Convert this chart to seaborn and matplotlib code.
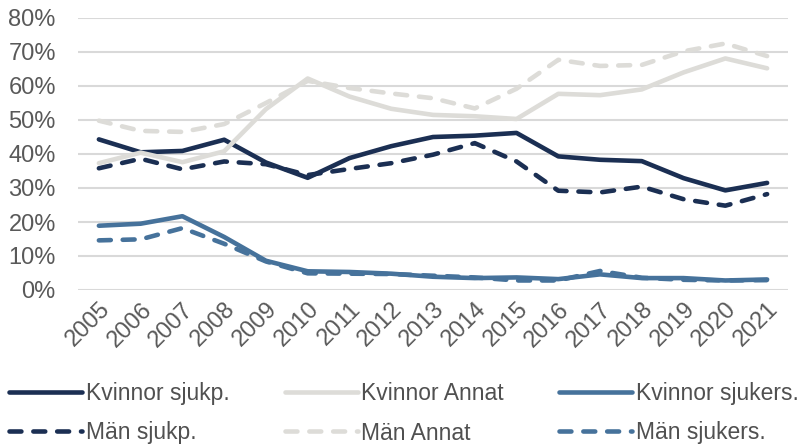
import numpy as np
import pandas as pd
import matplotlib
matplotlib.use('Agg')
import matplotlib.pyplot as plt
import seaborn as sns

years = list(range(2005, 2022))

kvinnor_sjukp = [44.3, 40.5, 40.9, 44.2, 37.5, 33.0, 38.8, 42.3, 45.0, 45.4, 46.2, 39.3, 38.3, 37.9, 32.9, 29.3, 31.5]
man_sjukp = [35.8, 38.6, 35.5, 37.8, 37.0, 33.8, 35.6, 37.3, 39.8, 43.2, 37.8, 29.2, 28.7, 30.4, 26.7, 24.8, 28.2]
kvinnor_annat = [37.3, 40.4, 37.6, 40.8, 53.2, 62.2, 56.9, 53.3, 51.5, 51.1, 50.3, 57.7, 57.3, 59.0, 64.0, 68.1, 65.2]
man_annat = [49.8, 46.8, 46.5, 48.8, 55.0, 61.5, 59.4, 57.8, 56.4, 53.4, 59.2, 67.7, 65.9, 66.2, 70.2, 72.5, 68.8]
kvinnor_sjukers = [18.9, 19.5, 21.7, 15.6, 8.6, 5.5, 5.3, 4.8, 3.9, 3.5, 3.7, 3.2, 4.6, 3.5, 3.5, 2.8, 3.1]
man_sjukers = [14.6, 14.9, 18.2, 13.6, 8.4, 4.9, 4.8, 4.7, 4.2, 3.7, 2.8, 2.8, 5.6, 3.6, 3.0, 2.8, 2.9]

labels = ['Kvinnor sjukp.', 'Män sjukp.', 'Kvinnor Annat', 'Män Annat',
          'Kvinnor sjukers.', 'Män sjukers.']
series = [kvinnor_sjukp, man_sjukp, kvinnor_annat, man_annat, kvinnor_sjukers, man_sjukers]

navy = '#1b2f53'
light = '#dddcd8'
steel = '#46729b'
colors = [navy, navy, light, light, steel, steel]
dashed = [False, True, False, True, False, True]

sns.set_style('white')
plt.rcParams['font.family'] = ['Liberation Sans', 'DejaVu Sans']

fig = plt.figure(figsize=(8.1, 4.45), dpi=100)
ax = fig.add_axes([78 / 810, 1 - 290 / 445, 710 / 810, 272 / 445])

for lab, vals, col, dsh in zip(labels, series, colors, dashed):
    df = pd.DataFrame({'year': years, 'value': np.array(vals) / 100})
    kw = dict(dashes=(2.6, 2.6), dash_capstyle='round') if dsh else dict(solid_capstyle='round')
    sns.lineplot(data=df, x='year', y='value', ax=ax, color=col, linewidth=3.3,
                 label=lab, **kw)

ax.set_ylim(0, 0.8)
ax.set_xlim(2004.5, 2021.5)
ax.set_yticks(np.arange(0, 0.81, 0.1))
ax.set_yticklabels([f'{int(round(v * 100))}%' for v in np.arange(0, 0.81, 0.1)])
ax.set_xticks(years)
ax.set_xticklabels([str(y) for y in years], rotation=45, ha='right', rotation_mode='anchor')
ax.tick_params(axis='both', length=0, labelsize=17, colors='#595959')
ax.tick_params(axis='y', pad=16)
ax.tick_params(axis='x', pad=6)
ax.set_xlabel('')
ax.set_ylabel('')
ax.grid(axis='y', color='#d9d9d9', linewidth=1.5)
ax.set_axisbelow(True)
for s in ax.spines.values():
    s.set_visible(False)

ax.get_legend().remove()
handles, labs = ax.get_legend_handles_labels()
fig.legend(handles, labs, ncol=3, loc='upper left', bbox_to_anchor=(9 / 810, 1 - 382 / 445),
           frameon=False, fontsize=16.5, handlelength=3.2, handletextpad=0.15,
           columnspacing=2.4, labelspacing=0.72, borderpad=0, borderaxespad=0,
           labelcolor='#505050')

fig.savefig('out.png', dpi=100)
